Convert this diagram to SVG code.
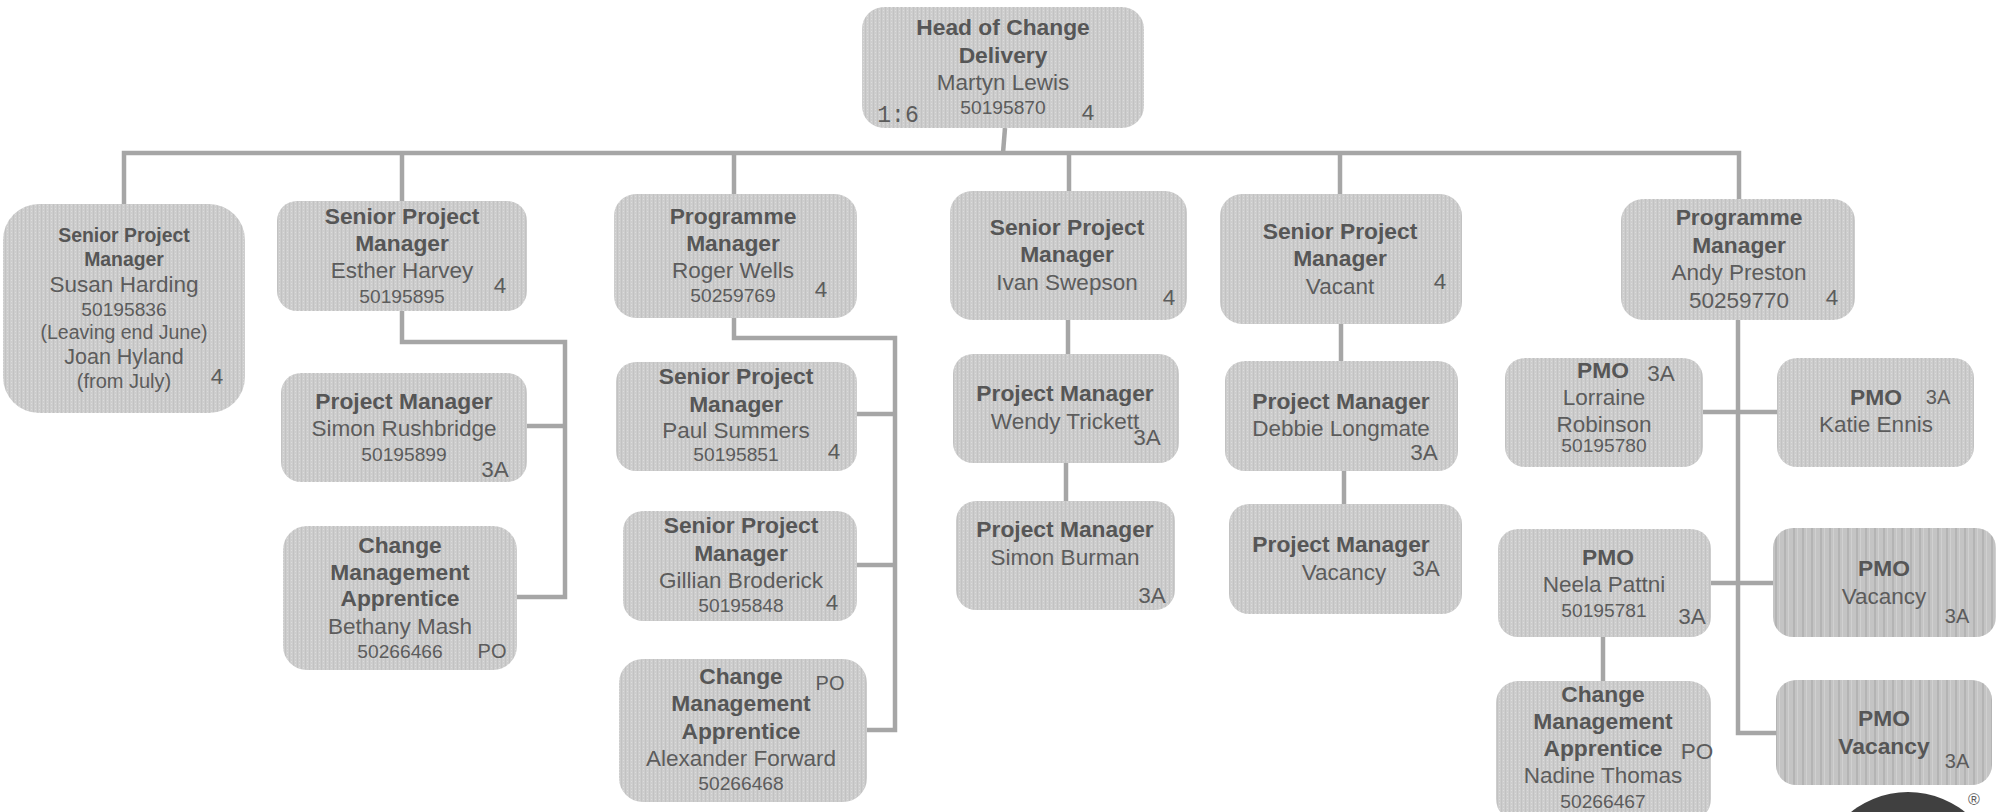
<svg xmlns="http://www.w3.org/2000/svg" width="2005" height="812" viewBox="0 0 2005 812">
<style>
text{font-family:"Liberation Sans",Arial,sans-serif;fill:#5c5c5c;text-anchor:middle;font-size:22.5px}
.b{font-weight:bold;font-size:22.8px;fill:#565656}
.s{font-size:19.2px}
.m{font-family:"Liberation Mono",monospace;font-size:23px}
.box{fill:url(#tex)}
.vac{fill:url(#stripe)}
.c{fill:none;stroke:#a6a6a6;stroke-width:4.5}
</style>
<defs>
<pattern id="tex" width="4" height="3" patternUnits="userSpaceOnUse"><rect width="4" height="3" fill="#cdcdcd"/><rect x="1" width="1" height="3" fill="#c2c2c2"/><rect x="3" y="1" width="1" height="1" fill="#dcdcdc"/></pattern>
<pattern id="stripe" width="9" height="4" patternUnits="userSpaceOnUse"><rect width="9" height="4" fill="#c4c4c4"/><rect x="2" width="2" height="4" fill="#b4b4b4"/><rect x="6" width="1" height="4" fill="#d0d0d0"/></pattern>
</defs>
<g id="connectors">
<path class="c" d="M124 205V153H1739V199"/>
<path class="c" d="M1005 128L1003 153"/>
<path class="c" d="M402 153V201"/>
<path class="c" d="M734 153V194"/>
<path class="c" d="M1069 153V191"/>
<path class="c" d="M1340 153V194"/>
<path class="c" d="M402 311V342H565V597H517"/>
<path class="c" d="M527 426H565"/>
<path class="c" d="M734 318V338H895V730H867"/>
<path class="c" d="M857 414H895"/>
<path class="c" d="M857 565H895"/>
<path class="c" d="M1068 320V354"/>
<path class="c" d="M1066 463V501"/>
<path class="c" d="M1341 324V361"/>
<path class="c" d="M1344 471V504"/>
<path class="c" d="M1738 320V733H1776"/>
<path class="c" d="M1703 412H1777"/>
<path class="c" d="M1711 583H1773"/>
<path class="c" d="M1603 637V681"/>
</g>
<g id="head"><rect class="box" x="862" y="7" width="282" height="121" rx="22"/><text class="b" x="1003" y="35">Head of Change</text><text class="b" x="1003" y="63">Delivery</text><text x="1003" y="90">Martyn Lewis</text><text class="s" x="1003" y="114">50195870</text><text class="m" x="898" y="122">1:6</text><text x="1088" y="120">4</text></g>
<g id="susan"><rect class="box" x="3" y="204" width="242" height="209" rx="36"/><text class="b" style="font-size:19.4px" x="124" y="242">Senior Project</text><text class="b" style="font-size:19.4px" x="124" y="266">Manager</text><text x="124" y="292">Susan Harding</text><text class="s" x="124" y="316">50195836</text><text class="s" style="font-size:19.5px" x="124" y="339">(Leaving end June)</text><text style="font-size:21.5px" x="124" y="364">Joan Hyland</text><text style="font-size:20px" x="124" y="388">(from July)</text><text x="217" y="384">4</text></g>
<g id="esther"><rect class="box" x="277" y="201" width="250" height="110" rx="20"/><text class="b" x="402" y="224">Senior Project</text><text class="b" x="402" y="251">Manager</text><text x="402" y="278">Esther Harvey</text><text class="s" x="402" y="303">50195895</text><text x="500" y="293">4</text></g>
<g id="roger"><rect class="box" x="614" y="194" width="243" height="124" rx="22"/><text class="b" x="733" y="224">Programme</text><text class="b" x="733" y="251">Manager</text><text x="733" y="278">Roger Wells</text><text class="s" x="733" y="302">50259769</text><text x="821" y="297">4</text></g>
<g id="ivan"><rect class="box" x="950" y="191" width="237" height="129" rx="22"/><text class="b" x="1067" y="235">Senior Project</text><text class="b" x="1067" y="262">Manager</text><text x="1067" y="290">Ivan Swepson</text><text x="1169" y="305">4</text></g>
<g id="vacant"><rect class="box" x="1220" y="194" width="242" height="130" rx="22"/><text class="b" x="1340" y="239">Senior Project</text><text class="b" x="1340" y="266">Manager</text><text x="1340" y="294">Vacant</text><text x="1440" y="289">4</text></g>
<g id="andy"><rect class="box" x="1621" y="199" width="234" height="121" rx="22"/><text class="b" x="1739" y="225">Programme</text><text class="b" x="1739" y="253">Manager</text><text x="1739" y="280">Andy Preston</text><text x="1739" y="308">50259770</text><text x="1832" y="305">4</text></g>
<g id="simonr"><rect class="box" x="281" y="373" width="246" height="109" rx="20"/><text class="b" x="404" y="409">Project Manager</text><text x="404" y="436">Simon Rushbridge</text><text class="s" x="404" y="461">50195899</text><text x="495" y="477">3A</text></g>
<g id="bethany"><rect class="box" x="283" y="526" width="234" height="144" rx="24"/><text class="b" x="400" y="553">Change</text><text class="b" x="400" y="580">Management</text><text class="b" x="400" y="606">Apprentice</text><text x="400" y="634">Bethany Mash</text><text class="s" x="400" y="658">50266466</text><text style="font-size:20px" x="492" y="658">PO</text></g>
<g id="paul"><rect class="box" x="616" y="362" width="241" height="109" rx="20"/><text class="b" x="736" y="384">Senior Project</text><text class="b" x="736" y="412">Manager</text><text x="736" y="438">Paul Summers</text><text class="s" x="736" y="461">50195851</text><text x="834" y="459">4</text></g>
<g id="gillian"><rect class="box" x="623" y="511" width="234" height="110" rx="20"/><text class="b" x="741" y="533">Senior Project</text><text class="b" x="741" y="561">Manager</text><text x="741" y="588">Gillian Broderick</text><text class="s" x="741" y="612">50195848</text><text x="832" y="610">4</text></g>
<g id="alexander"><rect class="box" x="619" y="659" width="248" height="143" rx="24"/><text class="b" x="741" y="684">Change</text><text class="b" x="741" y="711">Management</text><text class="b" x="741" y="739">Apprentice</text><text x="741" y="766">Alexander Forward</text><text class="s" x="741" y="790">50266468</text><text style="font-size:20px" x="830" y="690">PO</text></g>
<g id="wendy"><rect class="box" x="953" y="354" width="226" height="109" rx="20"/><text class="b" x="1065" y="401">Project Manager</text><text x="1065" y="429">Wendy Trickett</text><text x="1147" y="445">3A</text></g>
<g id="burman"><rect class="box" x="956" y="501" width="219" height="109" rx="20"/><text class="b" x="1065" y="537">Project Manager</text><text x="1065" y="565">Simon Burman</text><text x="1152" y="603">3A</text></g>
<g id="debbie"><rect class="box" x="1225" y="361" width="233" height="110" rx="20"/><text class="b" x="1341" y="409">Project Manager</text><text x="1341" y="436">Debbie Longmate</text><text x="1424" y="460">3A</text></g>
<g id="vacancy"><rect class="box" x="1229" y="504" width="233" height="110" rx="20"/><text class="b" x="1341" y="552">Project Manager</text><text x="1344" y="580">Vacancy</text><text x="1426" y="576">3A</text></g>
<g id="lorraine"><rect class="box" x="1505" y="358" width="198" height="109" rx="20"/><text class="b" x="1603" y="378">PMO</text><text x="1661" y="381">3A</text><text x="1604" y="405">Lorraine</text><text x="1604" y="432">Robinson</text><text class="s" x="1604" y="452">50195780</text></g>
<g id="katie"><rect class="box" x="1777" y="358" width="197" height="109" rx="20"/><text class="b" x="1876" y="405">PMO</text><text style="font-size:20px" x="1938" y="404">3A</text><text x="1876" y="432">Katie Ennis</text></g>
<g id="neela"><rect class="box" x="1498" y="529" width="213" height="108" rx="20"/><text class="b" x="1608" y="565">PMO</text><text x="1604" y="592">Neela Pattni</text><text class="s" x="1604" y="617">50195781</text><text x="1692" y="624">3A</text></g>
<g id="pmo1"><rect class="vac" x="1773" y="528" width="223" height="109" rx="20"/><text class="b" x="1884" y="576">PMO</text><text x="1884" y="604">Vacancy</text><text style="font-size:20px" x="1957" y="623">3A</text></g>
<g id="pmo2"><rect class="vac" x="1776" y="680" width="216" height="105" rx="20"/><text class="b" x="1884" y="726">PMO</text><text class="b" x="1884" y="754">Vacancy</text><text style="font-size:20px" x="1957" y="768">3A</text></g>
<g id="nadine"><rect class="box" x="1496" y="681" width="215" height="140" rx="22"/><text class="b" x="1603" y="702">Change</text><text class="b" x="1603" y="729">Management</text><text class="b" x="1603" y="756">Apprentice</text><text x="1603" y="783">Nadine Thomas</text><text class="s" x="1603" y="808">50266467</text><text x="1697" y="759">PO</text></g>
<g id="logo"><circle cx="1908" cy="883" r="91" fill="#404040"/><text style="font-size:16px" x="1974" y="805">®</text></g>
</svg>
